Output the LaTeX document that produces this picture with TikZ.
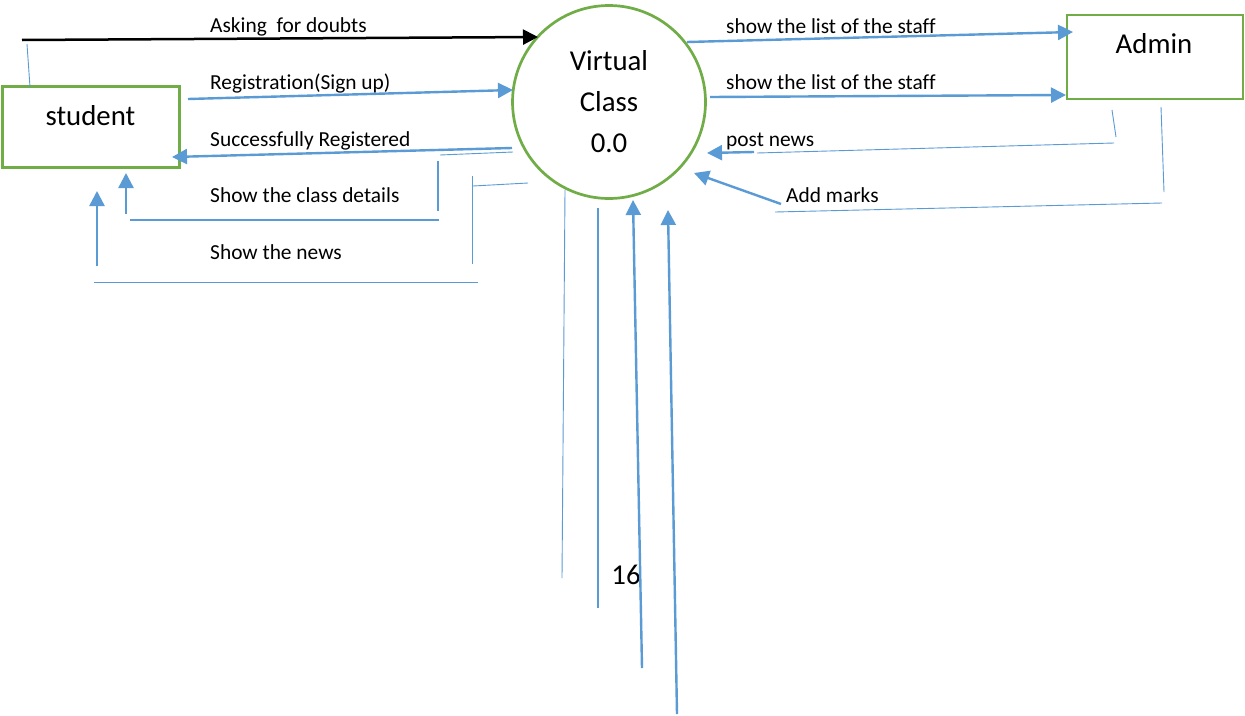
\documentclass[tikz,border=0pt]{standalone}
\usepackage{fontspec}
\setmainfont{Carlito}[Ligatures={NoCommon}]
\usetikzlibrary{arrows.meta}
\definecolor{lblue}{HTML}{5B9BD5}
\definecolor{lgreen}{HTML}{70AD47}
\begin{document}
\begin{tikzpicture}[x=1pt,y=-1pt,
  box/.style={draw=lgreen, line width=2.7pt, inner sep=0pt},
  flow/.style={draw=lblue, line width=2.4pt, -{Triangle[length=15pt,width=15pt]}},
  darkflow/.style={draw=black, line width=2.5pt, -{Triangle[length=15pt,width=15pt]}},
  thinline/.style={draw=lblue, line width=0.9pt},
  midline/.style={draw=lblue, line width=1.6pt},
  lbl/.style={anchor=base west, inner sep=0pt, font=\fontsize{21.4}{25}\selectfont},
  big/.style={font=\fontsize{28.8}{41}\selectfont}]
\useasboundingbox (0,0) rectangle (1245,715);
\fill[white] (0,0) rectangle (1245,715);

% entities and process
\node[box, minimum width=177pt, minimum height=81pt] (student) at (91,127) {};
\node[big, anchor=base, inner sep=0pt] (studentt) at (90.5,125) {student};
\node[box, minimum width=176pt, minimum height=84pt] (admin) at (1155,57) {};
\node[big, anchor=base, inner sep=0pt] (admint) at (1154,53) {Admin};
\node[box, circle, minimum size=193pt, big, align=center] (vc) at (609,102) {Virtual\\Class\\0.0};
\node[big, anchor=base, inner sep=0pt] (page) at (626,584) {16};

% coordinates
\coordinate (a1) at (22,40);  \coordinate (a2) at (538,37);
\coordinate (t1) at (27,44);  \coordinate (t2) at (30,87);
\coordinate (r1) at (188,99); \coordinate (r2) at (513,90);
\coordinate (s1) at (512,148); \coordinate (s2) at (172,157);
\coordinate (s3) at (440,155); \coordinate (s4) at (513,152);
\coordinate (c1) at (438,161); \coordinate (c2) at (438,211);
\coordinate (c3) at (130,220); \coordinate (c4) at (439,220);
\coordinate (c5) at (126,214); \coordinate (c6) at (126,173);
\coordinate (n1) at (472,176); \coordinate (n2) at (472,264);
\coordinate (n3) at (473,186); \coordinate (n4) at (528,183);
\coordinate (n5) at (94,282);  \coordinate (n6) at (478,282);
\coordinate (n7) at (97,266);  \coordinate (n8) at (97,191);
\coordinate (l1) at (687,42);  \coordinate (l2) at (1073,32);
\coordinate (m1) at (710,97);  \coordinate (m2) at (1066,95);
\coordinate (p1) at (1112,110); \coordinate (p2) at (1116,137);
\coordinate (p3) at (1114,143); \coordinate (p4) at (757,153);
\coordinate (p5) at (754,152);  \coordinate (p6) at (707,153);
\coordinate (k1) at (1161,107); \coordinate (k2) at (1164,192);
\coordinate (k3) at (1162,203); \coordinate (k4) at (775,212);
\coordinate (k5) at (781,204);  \coordinate (k6) at (694,173);
\coordinate (b1) at (565,190); \coordinate (b2) at (562,578);
\coordinate (b3) at (598,208); \coordinate (b4) at (598,608);
\coordinate (b5) at (642,668); \coordinate (b6) at (633,200);
\coordinate (b7) at (677,714); \coordinate (b8) at (668,210);

% connectors, student side
\draw[darkflow] (a1) -- (a2);
\draw[thinline] (t1) -- (t2);
\draw[flow] (r1) -- (r2);
\draw[flow] (s1) -- (s2);
\draw[thinline] (s3) -- (s4);
\draw[midline] (c1) -- (c2);
\draw[midline] (c3) -- (c4);
\draw[flow] (c5) -- (c6);
\draw[thinline] (n1) -- (n2);
\draw[thinline] (n3) -- (n4);
\draw[thinline] (n5) -- (n6);
\draw[flow] (n7) -- (n8);

% connectors, admin side
\draw[flow] (l1) -- (l2);
\draw[flow] (m1) -- (m2);
\draw[thinline] (p1) -- (p2);
\draw[thinline] (p3) -- (p4);
\draw[flow] (p5) -- (p6);
\draw[thinline] (k1) -- (k2);
\draw[thinline] (k3) -- (k4);
\draw[flow] (k5) -- (k6);

% connectors, below
\draw[thinline] (b1) -- (b2);
\draw[midline] (b3) -- (b4);
\draw[flow] (b5) -- (b6);
\draw[flow] (b7) -- (b8);

% labels
\node[lbl] (la) at (210,32) {Asking\ \ for doubts};
\node[lbl] (lr) at (210,89) {Registration(Sign up)};
\node[lbl] (ls) at (210,146) {Successfully Registered};
\node[lbl] (lc) at (210,202) {Show the class details};
\node[lbl] (ln) at (210,259) {Show the news};
\node[lbl] (ll1) at (726,33) {show the list of the staff};
\node[lbl] (ll2) at (726,89) {show the list of the staff};
\node[lbl] (lp) at (726,146) {post news};
\node[lbl] (lk) at (786,202) {Add marks};
\end{tikzpicture}
\end{document}
